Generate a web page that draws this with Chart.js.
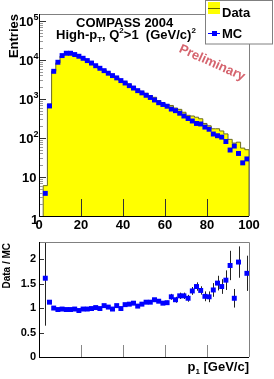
<!DOCTYPE html>
<html>
<head>
<meta charset="utf-8">
<script src="https://cdn.jsdelivr.net/npm/chart.js@4.4.0/dist/chart.umd.min.js"></script>
<style>
  html, body { margin: 0; padding: 0; background: #fff; }
  #wrap { position: relative; width: 274px; height: 379px; overflow: hidden; }
  #top { position: absolute; left: 0; top: 0; }
  #bot { position: absolute; left: 0; top: 232px; }
</style>
</head>
<body>
<div id="wrap">
  <canvas id="top" width="274" height="232"></canvas>
  <canvas id="bot" width="274" height="147"></canvas>
</div>
<script>
// bins of 2 GeV/c, centres
const binCenters = [1, 3, 5, 7, 9, 11, 13, 15, 17, 19, 21, 23, 25, 27, 29, 31, 33, 35, 37, 39,
  41, 43, 45, 47, 49, 51, 53, 55, 57, 59, 61, 63, 65, 67, 69, 71, 73, 75, 77, 79,
  81, 83, 85, 87, 89, 91, 93, 95, 97, 99];

const dataCounts = [null, 6, 740, 5100, 8400, 12600, 14400, 14400, 13400, 11800, 10800, 9400, 8200, 7200, 6000, 5600, 4650, 3900, 3630, 2900,
  2740, 2360, 2090, 1700, 1540, 1390, 1220, 1100, 910, 790, 720, 680, 585, 540, 455, 380, 365, 340, 310, 235,
  205, 172, 172, 151, 127, 92, 74, 78, 55, 50];

const mcCounts = [null, 3.8, 660, 5100, 8700, 12900, 14800, 14800, 13700, 12400, 11000, 9600, 8300, 7100, 6100, 5300, 4560, 3960, 3460, 2950,
  2560, 2190, 1900, 1630, 1430, 1240, 1090, 940, 800, 720, 650, 550, 500, 430, 365, 315, 272, 235, 228, 190,
  167, 126, 114, 105, 81, 49, 62, 40, 23, 29];

const ratioValues = [null, 1.61, 1.12, 1.0, 0.97, 0.98, 0.97, 0.97, 0.98, 0.95, 0.98, 0.98, 0.99, 1.01, 0.99, 1.05, 1.02, 0.98, 1.05, 0.99,
  1.07, 1.08, 1.10, 1.04, 1.08, 1.12, 1.12, 1.17, 1.14, 1.10, 1.11, 1.23, 1.17, 1.25, 1.25, 1.20, 1.35, 1.44, 1.36, 1.24,
  1.23, 1.37, 1.51, 1.44, 1.57, 1.87, 1.20, 1.94, null, 1.71];

const ratioErrors = [null, 0.97, 0.03, 0.015, 0.012, 0.012, 0.012, 0.012, 0.012, 0.012, 0.012, 0.012, 0.012, 0.012, 0.012, 0.015, 0.015, 0.015, 0.015, 0.015,
  0.015, 0.02, 0.02, 0.02, 0.02, 0.025, 0.025, 0.025, 0.03, 0.03, 0.04, 0.06, 0.06, 0.065, 0.065, 0.07, 0.08, 0.085, 0.085, 0.1,
  0.11, 0.14, 0.15, 0.15, 0.2, 0.3, 0.19, 0.32, null, 0.36];

const xTicks = [0, 20, 40, 60, 80, 100];
const logTickExps = [0, 1, 2, 3, 4, 5];
const ratioTicks = [0, 0.5, 1, 1.5, 2];

const FONT = '"Liberation Sans", Arial, Helvetica, sans-serif';
const YELLOW = '#ffff00';
const BLUE = '#0000ff';
const HALF_BIN = 1;

// histogram outline points (lower bin edges, stepped)
const histPoints = [];
let lastY = null, lastEdge = null;
binCenters.forEach((c, i) => {
  const v = dataCounts[i];
  if (v == null) return;
  if (histPoints.length === 0) histPoints.push({ x: c - HALF_BIN, y: 1 });
  histPoints.push({ x: c - HALF_BIN, y: v });
  lastY = v; lastEdge = c + HALF_BIN;
});
histPoints.push({ x: lastEdge, y: lastY });
histPoints.push({ x: lastEdge, y: 1 });

const mcPoints = binCenters.map((c, i) => ({ x: c, y: mcCounts[i] })).filter(p => p.y != null);
const ratioPoints = binCenters.map((c, i) => ({ x: c, y: ratioValues[i], err: ratioErrors[i] })).filter(p => p.y != null);

function richText(ctx, parts, x, y) {
  parts.forEach(p => {
    ctx.font = 'bold ' + p.size + 'px ' + FONT;
    ctx.fillText(p.t, x, y + (p.dy || 0));
    x += ctx.measureText(p.t).width;
  });
  return x;
}

function frame(ctx, a) {
  ctx.save();
  ctx.lineWidth = 1;
  ctx.strokeStyle = '#808080';
  ctx.beginPath();
  ctx.moveTo(a.left, a.top + 0.5);
  ctx.lineTo(a.right + 0.5, a.top + 0.5);
  ctx.lineTo(a.right + 0.5, a.bottom);
  ctx.stroke();
  ctx.strokeStyle = '#000';
  ctx.beginPath();
  ctx.moveTo(a.left + 0.5, a.top);
  ctx.lineTo(a.left + 0.5, a.bottom + 0.5);
  ctx.lineTo(a.right, a.bottom + 0.5);
  ctx.stroke();
  ctx.restore();
}

const topDecor = {
  id: 'topDecor',
  afterDatasetsDraw(chart) {
    const ctx = chart.ctx, a = chart.chartArea;
    const xs = chart.scales.x, ys = chart.scales.y;
    ctx.save();
    // inside ticks
    ctx.lineWidth = 1;
    ctx.strokeStyle = '#333';
    xTicks.forEach(t => {
      const px = Math.round(xs.getPixelForValue(t)) + 0.5;
      ctx.beginPath(); ctx.moveTo(px, a.bottom); ctx.lineTo(px, a.bottom - 17); ctx.stroke();
    });
    logTickExps.forEach(e => {
      const base = Math.pow(10, e);
      const py = Math.round(ys.getPixelForValue(base)) + 0.5;
      ctx.strokeStyle = '#333';
      ctx.beginPath(); ctx.moveTo(a.left, py); ctx.lineTo(a.left + 7, py); ctx.stroke();
      for (let m = 2; m <= 9; m++) {
        const v = base * m;
        if (v > ys.max) break;
        const my = Math.round(ys.getPixelForValue(v)) + 0.5;
        ctx.strokeStyle = '#999';
        ctx.beginPath(); ctx.moveTo(a.left, my); ctx.lineTo(a.left + 4, my); ctx.stroke();
      }
    });
    ctx.restore();
    frame(ctx, a);
  },
  afterDraw(chart) {
    const ctx = chart.ctx, a = chart.chartArea;
    const ys = chart.scales.y;
    ctx.save();
    ctx.fillStyle = '#000';
    ctx.textBaseline = 'alphabetic';
    // log labels
    logTickExps.forEach(e => {
      const py = ys.getPixelForValue(Math.pow(10, e));
      ctx.textAlign = 'left';
      if (e === 0) {
        ctx.font = 'bold 13px ' + FONT;
        ctx.fillText('1', 31, py + 8);
      } else if (e === 1) {
        ctx.font = 'bold 13px ' + FONT;
        ctx.fillText('10', 22, py + 5);
      } else {
        richText(ctx, [{ t: '10', size: 13 }, { t: String(e), size: 9, dy: -6 }], 19, py + 5);
      }
    });
    // titles
    ctx.textAlign = 'left';
    ctx.font = 'bold 13px ' + FONT;
    ctx.fillText('COMPASS 2004', 76, 27);
    richText(ctx, [
      { t: 'High-p', size: 13 }, { t: 'T', size: 8, dy: 3 }, { t: ', Q', size: 13 },
      { t: '2', size: 8, dy: -6 }, { t: '>1  (GeV/c)', size: 13 }, { t: '2', size: 8, dy: -6 }
    ], 56, 39);
    // Entries
    ctx.save();
    ctx.translate(18, a.top);
    ctx.rotate(-Math.PI / 2);
    ctx.textAlign = 'right';
    ctx.font = 'bold 13px ' + FONT;
    ctx.fillText('Entries', 0, 0);
    ctx.restore();
    // Preliminary
    ctx.save();
    ctx.translate(212, 63);
    ctx.rotate(0.42);
    ctx.textAlign = 'center';
    ctx.textBaseline = 'middle';
    ctx.font = 'bold 13px ' + FONT;
    ctx.fillStyle = '#d5646e';
    ctx.fillText('Preliminary', 0, 0);
    ctx.restore();
    // legend
    ctx.fillStyle = '#fff';
    ctx.fillRect(205, 0, 69, 44);
    ctx.strokeStyle = '#808080';
    ctx.lineWidth = 1;
    ctx.strokeRect(205.5, 0.5, 67, 43.5);
    ctx.fillStyle = YELLOW;
    ctx.fillRect(208, 2, 12, 12);
    ctx.strokeStyle = '#666600';
    ctx.beginPath(); ctx.moveTo(208, 8.5); ctx.lineTo(220, 8.5); ctx.stroke();
    ctx.strokeStyle = BLUE;
    ctx.beginPath(); ctx.moveTo(208, 33.5); ctx.lineTo(220, 33.5); ctx.stroke();
    ctx.fillStyle = BLUE;
    ctx.fillRect(212, 31, 5, 5);
    ctx.fillStyle = '#000';
    ctx.textAlign = 'left';
    ctx.font = 'bold 13px ' + FONT;
    ctx.fillText('Data', 222, 17);
    ctx.fillText('MC', 222, 38);
    ctx.restore();
  }
};

const botDecor = {
  id: 'botDecor',
  beforeDatasetsDraw(chart) {
    const ctx = chart.ctx, a = chart.chartArea;
    const ys = chart.scales.y;
    ctx.save();
    ctx.strokeStyle = '#222';
    ctx.lineWidth = 1;
    ratioPoints.forEach(p => {
      if (!p.err) return;
      const px = Math.round(chart.scales.x.getPixelForValue(p.x)) + 0.5;
      const y1 = Math.max(ys.getPixelForValue(p.y + p.err), a.top);
      const y2 = Math.min(ys.getPixelForValue(p.y - p.err), a.bottom);
      ctx.beginPath(); ctx.moveTo(px, y1); ctx.lineTo(px, y2); ctx.stroke();
    });
    ctx.restore();
  },
  afterDraw(chart) {
    const ctx = chart.ctx, a = chart.chartArea;
    const xs = chart.scales.x, ys = chart.scales.y;
    ctx.save();
    ctx.lineWidth = 1;
    ctx.strokeStyle = '#888';
    xTicks.slice(1, -1).forEach(t => {
      const px = Math.round(xs.getPixelForValue(t)) + 0.5;
      ctx.beginPath(); ctx.moveTo(px, a.bottom); ctx.lineTo(px, a.bottom - 12); ctx.stroke();
    });
    ctx.strokeStyle = '#333';
    ratioTicks.forEach(t => {
      const py = Math.round(ys.getPixelForValue(t)) + 0.5;
      ctx.beginPath(); ctx.moveTo(a.left, py); ctx.lineTo(a.left + 5, py); ctx.stroke();
    });
    ctx.restore();
    frame(ctx, a);
    ctx.save();
    ctx.fillStyle = '#000';
    // axis titles
    ctx.save();
    ctx.translate(10, a.top + 1);
    ctx.rotate(-Math.PI / 2);
    ctx.textAlign = 'right';
    ctx.font = 'bold 10px ' + FONT;
    ctx.fillText('Data / MC', 0, 0);
    ctx.restore();
    ctx.textAlign = 'left';
    const parts = [{ t: 'p', size: 13 }, { t: '1', size: 8, dy: 3 }, { t: ' [GeV/c]', size: 13 }];
    let w = 0;
    parts.forEach(p => { ctx.font = 'bold ' + p.size + 'px ' + FONT; w += ctx.measureText(p.t).width; });
    richText(ctx, parts, a.right - w, 139);
    ctx.restore();
  }
};

new Chart(document.getElementById('top'), {
  type: 'line',
  data: {
    datasets: [
      {
        label: 'Data',
        data: histPoints,
        stepped: true,
        fill: 'start',
        backgroundColor: YELLOW,
        borderColor: '#6b6b20',
        borderWidth: 1,
        pointRadius: 0,
        order: 2
      },
      {
        label: 'MC',
        data: mcPoints,
        showLine: false,
        pointStyle: 'rect',
        pointRadius: 3.5,
        pointBackgroundColor: BLUE,
        pointBorderColor: BLUE,
        pointBorderWidth: 0,
        order: 1
      }
    ]
  },
  options: {
    responsive: false,
    animation: false,
    layout: { padding: { top: 14, right: 25, left: 0, bottom: 0 } },
    plugins: { legend: { display: false }, tooltip: { enabled: false } },
    scales: {
      x: {
        type: 'linear', min: 0, max: 100,
        grid: { display: false, drawTicks: false },
        border: { display: false },
        ticks: {
          stepSize: 20, padding: 2, color: '#000',
          font: { family: FONT, size: 13, weight: 'bold' }
        },
        afterFit(s) { s.height = 16; }
      },
      y: {
        type: 'logarithmic', min: 1, max: 150000,
        grid: { display: false, drawTicks: false },
        border: { display: false },
        ticks: { display: false },
        afterFit(s) { s.width = 39; }
      }
    }
  },
  plugins: [topDecor]
});

new Chart(document.getElementById('bot'), {
  type: 'scatter',
  data: {
    datasets: [{
      label: 'Data / MC',
      data: ratioPoints,
      pointStyle: 'rect',
      pointRadius: 3.5,
      pointBackgroundColor: BLUE,
      pointBorderColor: BLUE,
      pointBorderWidth: 0
    }]
  },
  options: {
    responsive: false,
    animation: false,
    layout: { padding: { top: 10, right: 25, left: 0, bottom: 0 } },
    plugins: { legend: { display: false }, tooltip: { enabled: false } },
    scales: {
      x: {
        type: 'linear', min: 0, max: 100,
        grid: { display: false, drawTicks: false },
        border: { display: false },
        ticks: { display: false },
        afterFit(s) { s.height = 22; }
      },
      y: {
        type: 'linear', min: 0, max: 2.35,
        grid: { display: false, drawTicks: false },
        border: { display: false },
        ticks: {
          stepSize: 0.5, includeBounds: false, padding: 3, color: '#000',
          font: { family: FONT, size: 11, weight: 'bold' },
          callback: v => String(v)
        },
        afterFit(s) { s.width = 39; }
      }
    }
  },
  plugins: [botDecor]
});
</script>
</body>
</html>
